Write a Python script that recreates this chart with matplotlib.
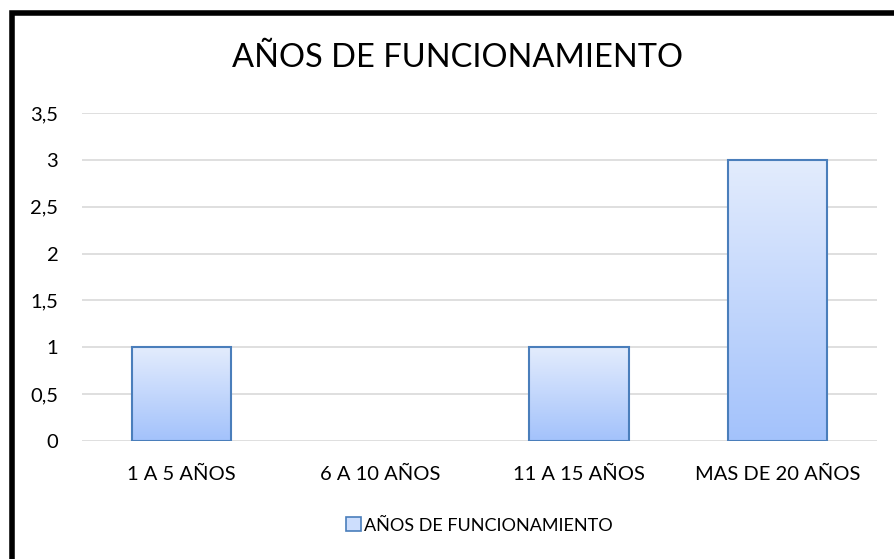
import numpy as np
import matplotlib.pyplot as plt
from matplotlib.patches import Rectangle
from matplotlib.colors import LinearSegmentedColormap

categories = ["1 A 5 AÑOS", "6 A 10 AÑOS", "11 A 15 AÑOS", "MAS DE 20 AÑOS"]
values = [1, 0, 1, 3]
series_name = "AÑOS DE FUNCIONAMIENTO"
yticks = [0, 0.5, 1, 1.5, 2, 2.5, 3, 3.5]
ytick_labels = ["0", "0,5", "1", "1,5", "2", "2,5", "3", "3,5"]

plt.rcParams['font.family'] = ['Lato', 'DejaVu Sans']

fig = plt.figure(figsize=(8.95, 5.59), dpi=100)
ax = fig.add_axes([0.0916, 0.211, 0.8884, 0.587])

# gradient fill, light at top, darker blue at bottom
grad = LinearSegmentedColormap.from_list("g", ["#a3c2fb", "#e3ecfd"])
x = np.arange(len(categories))
width = 0.5
bars = ax.bar(x, values, width=width, facecolor="none", edgecolor="#4a7ebb",
              linewidth=1.5, zorder=3)
g = np.linspace(0, 1, 256).reshape(-1, 1)
for b in bars:
    h = b.get_height()
    if h <= 0:
        b.set_visible(False)  # excel draws nothing for a zero bar
        continue
    x0 = b.get_x()
    im = ax.imshow(g, cmap=grad, origin="lower", aspect="auto",
                   extent=[x0, x0 + b.get_width(), 0, h], zorder=2)
    im.set_clip_path(b)

ax.set_xlim(-0.5, len(categories) - 0.5)
ax.set_ylim(0, 3.5)
ax.set_yticks(yticks)
ax.set_yticklabels(ytick_labels)
ax.set_xticks(x)
ax.set_xticklabels(categories)
ax.tick_params(length=0, labelsize=14.5)
ax.tick_params(axis="x", pad=18)
ax.tick_params(axis="y", pad=17)
ax.yaxis.grid(True, color="#d9d9d9", linewidth=1.2, zorder=0)
ax.set_axisbelow(True)
for s in ax.spines.values():
    s.set_visible(False)

fig.text(0.511, 0.897, "AÑOS DE FUNCIONAMIENTO", ha="center", va="center",
         fontsize=23.5)

handle = Rectangle((0, 0), 1, 1, facecolor="#cddefd", edgecolor="#4a7ebb",
                   linewidth=1.2)
fig.legend([handle], [series_name], loc="center", bbox_to_anchor=(0.536, 0.06),
           frameon=False, fontsize=13, handlelength=0.8, handleheight=0.8,
           handletextpad=0.2)

# black frame around chart (left and top visible)
fig.patches.append(Rectangle((12 / 895, -0.1), 1.2, 1 - 13.5 / 559 + 0.1,
                             transform=fig.transFigure, fill=False,
                             edgecolor="black", linewidth=4, zorder=10))

fig.savefig("out.png", dpi=100)
